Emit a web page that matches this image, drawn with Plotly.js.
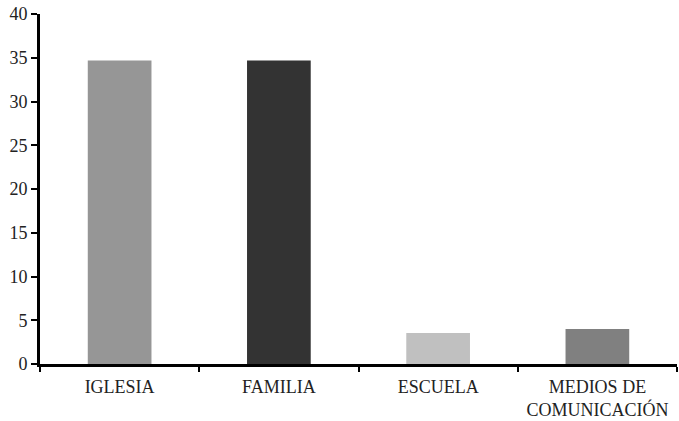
<!DOCTYPE html>
<html><head><meta charset="utf-8">
<script src="https://cdn.plot.ly/plotly-3.0.1.min.js"></script>
<style>html,body{margin:0;padding:0;background:#fff}</style>
</head><body><div id="chart" style="width:679px;height:421px"></div>
<script>
const categories = ["IGLESIA", "FAMILIA", "ESCUELA", "MEDIOS DE<br>COMUNICACIÓN"];
const values = [34.7, 34.7, 3.55, 4.0];
const colors = ["#969696", "#333333", "#c0c0c0", "#808080"];
const yTicks = [0, 5, 10, 15, 20, 25, 30, 35, 40];

Plotly.newPlot("chart", [{
  type: "bar", x: categories, y: values,
  marker: {color: colors}, width: 0.4, hoverinfo: "none"
}], {
  width: 679, height: 421,
  margin: {l: 40, r: 2, t: 14, b: 57},
  paper_bgcolor: "#fff", plot_bgcolor: "#fff",
  font: {family: "Liberation Serif, Times New Roman, serif", size: 18, color: "#222"},
  showlegend: false,
  xaxis: {showline: true, linecolor: "#000", linewidth: 3, ticks: "outside", tickson: "boundaries",
          ticklen: 5, tickwidth: 2, tickcolor: "#000", showgrid: false, zeroline: false,
          ticklabelstandoff: 4, tickfont: {size: 18}},
  yaxis: {range: [0, 40], tickvals: yTicks, showline: true, linecolor: "#000", linewidth: 3,
          ticks: "outside", ticklen: 6, tickwidth: 2, tickcolor: "#000", showgrid: false,
          zeroline: false, tickfont: {size: 18}}
}, {staticPlot: true});
</script></body></html>
